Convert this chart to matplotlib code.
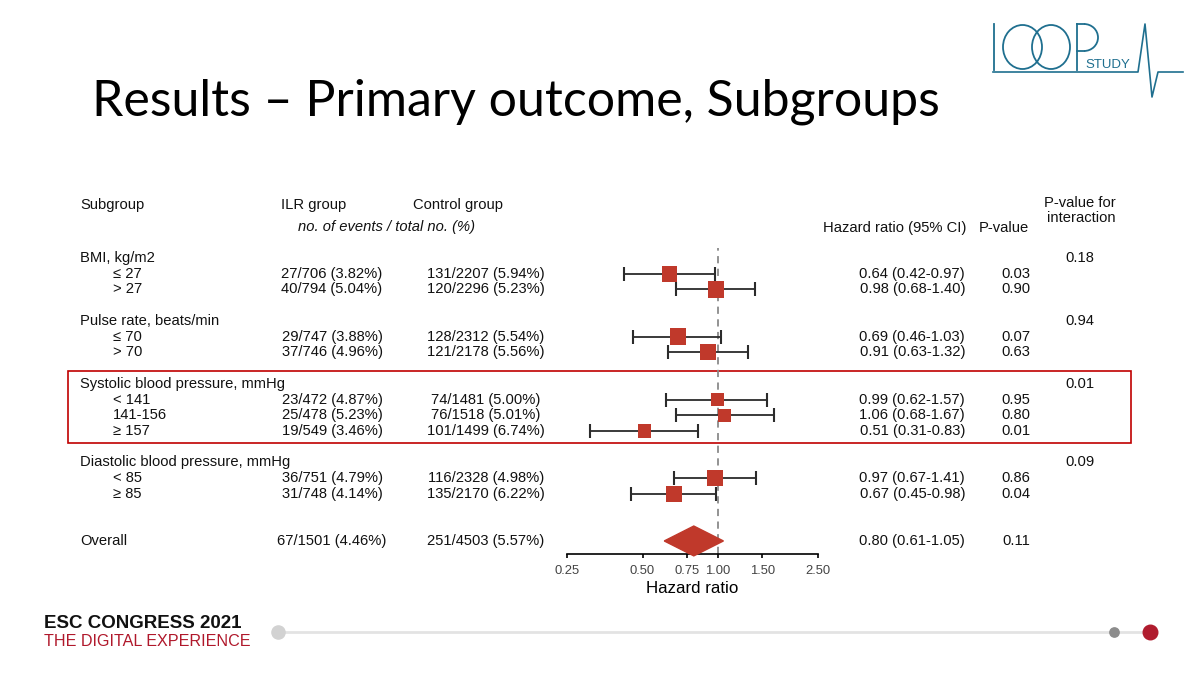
import matplotlib
matplotlib.use("Agg")
import matplotlib.pyplot as plt
import matplotlib.transforms as mtransforms
from matplotlib.patches import Rectangle, Polygon, Ellipse, Arc

# data
groups = ["BMI, kg/m2", "Pulse rate, beats/min",
          "Systolic blood pressure, mmHg", "Diastolic blood pressure, mmHg"]
levels = [["≤ 27", "> 27"], ["≤ 70", "> 70"],
          ["< 141", "141-156", "≥ 157"], ["< 85", "≥ 85"]]
p_interaction = ["0.18", "0.94", "0.01", "0.09"]

ilr_events = [27, 40, 29, 37, 23, 25, 19, 36, 31]
ilr_total = [706, 794, 747, 746, 472, 478, 549, 751, 748]
ilr_pct = [3.82, 5.04, 3.88, 4.96, 4.87, 5.23, 3.46, 4.79, 4.14]
ctrl_events = [131, 120, 128, 121, 74, 76, 101, 116, 135]
ctrl_total = [2207, 2296, 2312, 2178, 1481, 1518, 1499, 2328, 2170]
ctrl_pct = [5.94, 5.23, 5.54, 5.56, 5.00, 5.01, 6.74, 4.98, 6.22]
hr = [0.64, 0.98, 0.69, 0.91, 0.99, 1.06, 0.51, 0.97, 0.67]
hr_lo = [0.42, 0.68, 0.46, 0.63, 0.62, 0.68, 0.31, 0.67, 0.45]
hr_hi = [0.97, 1.40, 1.03, 1.32, 1.57, 1.67, 0.83, 1.41, 0.98]
pvals = ["0.03", "0.90", "0.07", "0.63", "0.95", "0.80", "0.01", "0.86", "0.04"]

overall = {"ilr": (67, 1501, 4.46), "ctrl": (251, 4503, 5.57),
           "hr": 0.80, "lo": 0.61, "hi": 1.05, "p": "0.11"}

ticks = [0.25, 0.50, 0.75, 1.00, 1.50, 2.50]

RED = "#c0392b"
FS = 10.6
TXT = "Liberation Sans"

fig = plt.figure(figsize=(12, 6.75), dpi=100)

# background axes in pixel units for slide decorations
bg = fig.add_axes([0, 0, 1, 1])
bg.set_xlim(0, 1200)
bg.set_ylim(675, 0)
bg.axis("off")

# forest plot axes
W, H = 1200, 675
ax = fig.add_axes([567 / W, 1 - 554 / H, 251 / W, (554 - 248) / H])
ax.patch.set_alpha(0)
ax.set_xscale("log")
ax.set_xlim(0.25, 2.5)
ax.set_ylim(18.83, -0.64)

# row positions
head_y, row_y = [], []
y = 0
for g, lv in zip(groups, levels):
    head_y.append(y)
    row_y += [y + i + 1 for i in range(len(lv))]
    y += len(lv) + 2
overall_y = y + 1

ax.axvline(1.0, color="#8a8a8a", lw=1.3, ls=(0, (4, 3)), zorder=1)

xerr = [[h - l for h, l in zip(hr, hr_lo)], [u - h for h, u in zip(hr, hr_hi)]]
ax.errorbar(hr, row_y, xerr=xerr, fmt="none", ecolor="#2b2b2b",
            elinewidth=1.3, capsize=5, capthick=1.5, zorder=2)
# box size grows with group size
sizes = [(0.295 * (a + b) ** 0.5 * 0.72) ** 2 for a, b in zip(ilr_total, ctrl_total)]
ax.scatter(hr, row_y, marker="s", s=sizes, color=RED, zorder=3, linewidths=0)

dh = 0.95
diamond = Polygon([(overall["lo"], overall_y), (overall["hr"], overall_y - dh),
                   (overall["hi"], overall_y), (overall["hr"], overall_y + dh)],
                  closed=True, color=RED, zorder=3, clip_on=False)
ax.add_patch(diamond)

for s in ["top", "right", "left"]:
    ax.spines[s].set_visible(False)
ax.spines["bottom"].set_linewidth(1.2)
ax.set_yticks([])
ax.set_xticks(ticks)
ax.set_xticklabels([f"{t:.2f}" for t in ticks])
ax.xaxis.set_minor_locator(matplotlib.ticker.NullLocator())
ax.tick_params(axis="x", length=3, width=1.2, labelsize=9.4,
               labelcolor="#444444", pad=5)
for lab in ax.get_xticklabels():
    lab.set_family(TXT)
ax.set_xlabel("Hazard ratio", fontsize=12.2, family=TXT, labelpad=3)

# text columns: x in pixels, y in row units
tr = mtransforms.blended_transform_factory(bg.transData, ax.transData)


def put(x, yy, s, ha="left", **kw):
    bg.text(x, yy, s, transform=tr, ha=ha, va="center", fontsize=FS,
            family=TXT, color="#111111", **kw)


put(80, -3.4, "Subgroup")
put(314, -3.4, "ILR group", ha="center")
put(458, -3.4, "Control group", ha="center")
put(386, -2.0, "no. of events / total no. (%)", ha="center", style="italic")
put(966, -1.9, "Hazard ratio (95% CI)", ha="right")
put(1029, -1.9, "P-value", ha="right")
put(1080, -3.5, "P-value for", ha="center")
put(1081, -2.55, "interaction", ha="center")

i = 0
for g, lv, pi, hy in zip(groups, levels, p_interaction, head_y):
    put(80, hy, g)
    put(1080, hy, pi, ha="center")
    for name in lv:
        yy = row_y[i]
        put(113, yy, name)
        put(332, yy, f"{ilr_events[i]}/{ilr_total[i]} ({ilr_pct[i]:.2f}%)", ha="center")
        put(486, yy, f"{ctrl_events[i]}/{ctrl_total[i]} ({ctrl_pct[i]:.2f}%)", ha="center")
        put(965, yy, f"{hr[i]:.2f} ({hr_lo[i]:.2f}-{hr_hi[i]:.2f})", ha="right")
        put(1030, yy, pvals[i], ha="right")
        i += 1

e, n, p = overall["ilr"]
put(80, overall_y, "Overall")
put(332, overall_y, f"{e}/{n} ({p:.2f}%)", ha="center")
e, n, p = overall["ctrl"]
put(486, overall_y, f"{e}/{n} ({p:.2f}%)", ha="center")
put(965, overall_y, f"{overall['hr']:.2f} ({overall['lo']:.2f}-{overall['hi']:.2f})", ha="right")
put(1030, overall_y, overall["p"], ha="right")

# highlight box round systolic rows
bg.add_patch(Rectangle((68, 371), 1063, 72, fill=False, ec="#c00000", lw=1.2))

# title
bg.text(92, 102, "Results \u2013 Primary outcome, Subgroups", fontsize=36,
        family="Lato", va="center", ha="left", color="#000000")

# logo
TEAL = "#1f6f8f"
bg.plot([994, 994], [24, 70], color=TEAL, lw=1.3)
bg.add_patch(Ellipse((1022.5, 47), 39, 44, fill=False, ec=TEAL, lw=1.3))
bg.add_patch(Ellipse((1051, 47), 38, 44, fill=False, ec=TEAL, lw=1.3))
bg.plot([1077, 1077], [24, 70], color=TEAL, lw=1.3)
bg.add_patch(Arc((1084, 37.5), 28, 27, theta1=-90, theta2=90, ec=TEAL, lw=1.3))
bg.plot([1077, 1084], [24, 24], color=TEAL, lw=1.3)
bg.plot([1077, 1084], [51, 51], color=TEAL, lw=1.3)
bg.text(1085, 68, "STUDY", fontsize=9.5, family=TXT,
        color=TEAL, va="baseline", ha="left")
bg.plot([993, 1138, 1145, 1152, 1158, 1183], [72, 72, 24, 97, 72, 72],
        color=TEAL, lw=1.2)

# footer
bg.text(44, 623, "ESC CONGRESS 2021", fontsize=13.5, fontweight="bold",
        family=TXT, va="center", ha="left", color="#111111")
bg.text(44, 641, "THE DIGITAL EXPERIENCE", fontsize=11.6,
        family=TXT, va="center", ha="left", color="#b0182b")
bg.plot([278, 1150], [632, 632], color="#e3e3e3", lw=2, zorder=1)
bg.scatter([278], [632], s=90, color="#d2d2d2", zorder=2)
bg.scatter([1114], [632], s=45, color="#8c8c8c", zorder=2)
bg.scatter([1150], [632], s=110, color="#b01c2e", zorder=2)

fig.savefig("out.png", dpi=100)
